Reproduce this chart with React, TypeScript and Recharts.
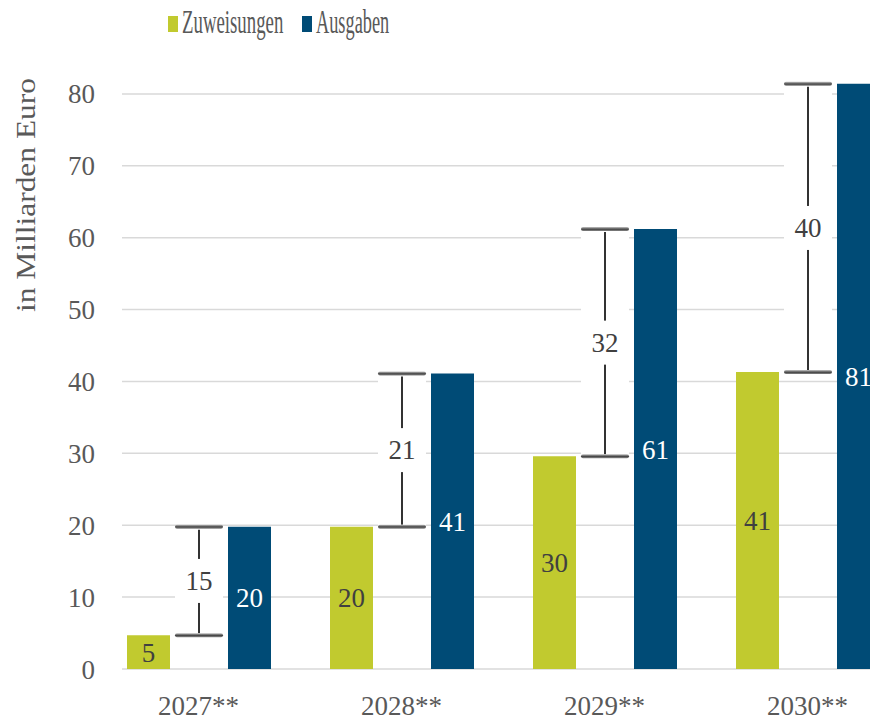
import { BarChart, Bar, XAxis, YAxis, CartesianGrid, Legend, LabelList, Label } from "recharts";

const years = ["2027**", "2028**", "2029**", "2030**"];
const zuweisungen = [4.7, 19.8, 29.6, 41.3];
const ausgaben = [19.8, 41.1, 61.2, 81.4];
const yTicks = [0, 10, 20, 30, 40, 50, 60, 70, 80];
const Y_MAX = 90;

const GREEN = "#c1ca2f";
const BLUE = "#004b76";
const TEXT = "#595959";
const DARK = "#404040";
const FONT = "'Liberation Serif', 'DejaVu Serif', serif";

const data = years.map((year, i) => ({
  year,
  zuweisungen: zuweisungen[i],
  ausgaben: ausgaben[i],
  gap: [zuweisungen[i], ausgaben[i]],
}));

// legend text is set in a narrow face in the original, squeezed here
const legendItems = [
  { name: "Zuweisungen", color: GREEN, x: 168, sx: 0.57 },
  { name: "Ausgaben", color: BLUE, x: 302, sx: 0.555 },
];

function LegendContent() {
  return (
    <svg width={870} height={45} style={{ display: "block" }}>
      {legendItems.map((item) => (
        <g key={item.name}>
          <rect x={item.x} y={16} width={10} height={16} fill={item.color} />
          <text
            transform={`translate(${item.x + 14}, 33) scale(${item.sx}, 1)`}
            fontSize={33}
            fontFamily={FONT}
            fill={TEXT}
          >
            {item.name}
          </text>
        </g>
      ))}
    </svg>
  );
}

// white gap between the two bars, with caps, a line and the difference
function GapShape(props: any) {
  const { x, y, width, height, payload, index } = props;
  const top = Math.min(y, y + height);
  const bottom = Math.max(y, y + height);
  const cx = x + width / 2;
  const mid = (top + bottom) / 2;
  const capX = x - 2.5;
  const capW = width + 5;
  const diff = Math.round(payload.ausgaben - payload.zuweisungen);
  const gid = `cap-${index}`;
  return (
    <g>
      <defs>
        <linearGradient id={gid} x1="0" y1="0" x2="0" y2="1">
          <stop offset="0%" stopColor="#c4c4c4" />
          <stop offset="55%" stopColor="#454545" />
          <stop offset="100%" stopColor="#8a8a8a" />
        </linearGradient>
      </defs>
      <rect x={capX} y={top} width={capW} height={bottom - top} fill="#fff" />
      <line x1={cx} x2={cx} y1={top + 3} y2={bottom - 2} stroke="#333" strokeWidth={2} />
      <rect x={capX} y={mid - 22} width={capW} height={44} fill="#fff" />
      <rect x={capX} y={top - 2} width={capW} height={4} rx={2} fill={`url(#${gid})`} />
      <rect x={capX} y={bottom - 2} width={capW} height={4} rx={2} fill={`url(#${gid})`} />
      <text
        x={cx}
        y={mid}
        textAnchor="middle"
        dominantBaseline="central"
        fontSize={27}
        fontFamily={FONT}
        fill={DARK}
      >
        {diff}
      </text>
    </g>
  );
}

export default function App() {
  return (
    <div
      style={{
        position: "fixed",
        left: 0,
        top: 0,
        width: 870,
        height: 720,
        overflow: "hidden",
        background: "#fff",
      }}
    >
      <BarChart
        width={910}
        height={720}
        data={data}
        margin={{ top: 22, right: 1, left: 0, bottom: 0 }}
        barSize={43}
        barGap={7.5}
      >
        <CartesianGrid
          vertical={false}
          horizontalCoordinatesGenerator={({ offset }: any) =>
            yTicks.map((t) => offset.top + offset.height * (1 - t / Y_MAX))
          }
          x={122}
          width={800}
          stroke="#d9d9d9"
          strokeWidth={1.5}
        />
        <XAxis
          dataKey="year"
          axisLine={false}
          tickLine={false}
          tickSize={0}
          tickMargin={27}
          height={51}
          tick={{ fill: TEXT, fontSize: 27, fontFamily: FONT }}
        />
        <YAxis
          width={97}
          domain={[0, Y_MAX]}
          ticks={yTicks}
          axisLine={false}
          tickLine={false}
          tickSize={0}
          tickMargin={2}
          tick={{ fill: TEXT, fontSize: 27, fontFamily: FONT }}
        >
          <Label
            content={(p: any) => {
              const vb = p.viewBox || { x: 0, y: 22 };
              return (
                <text
                  transform={`translate(${vb.x + 35}, ${vb.y + 173}) rotate(-90)`}
                  textAnchor="middle"
                  fontSize={27}
                  fontFamily={FONT}
                  fill={TEXT}
                  textLength={234}
                  lengthAdjust="spacingAndGlyphs"
                >
                  in Milliarden Euro
                </text>
              );
            }}
          />
        </YAxis>
        <Legend
          layout="horizontal"
          verticalAlign="middle"
          align="center"
          wrapperStyle={{ top: 0, left: 0, width: 870, height: 45 }}
          content={() => <LegendContent />}
        />
        <Bar dataKey="zuweisungen" name="Zuweisungen" fill={GREEN} isAnimationActive={false}>
          <LabelList
            dataKey="zuweisungen"
            position="center"
            formatter={(v: any) => Math.round(Number(v))}
            fill={DARK}
            fontSize={27}
            fontFamily={FONT}
          />
        </Bar>
        <Bar dataKey="gap" legendType="none" isAnimationActive={false} shape={(p: any) => <GapShape {...p} />} />
        <Bar dataKey="ausgaben" name="Ausgaben" fill={BLUE} isAnimationActive={false}>
          <LabelList
            dataKey="ausgaben"
            position="center"
            formatter={(v: any) => Math.round(Number(v))}
            fill="#fff"
            fontSize={27}
            fontFamily={FONT}
          />
        </Bar>
      </BarChart>
    </div>
  );
}
